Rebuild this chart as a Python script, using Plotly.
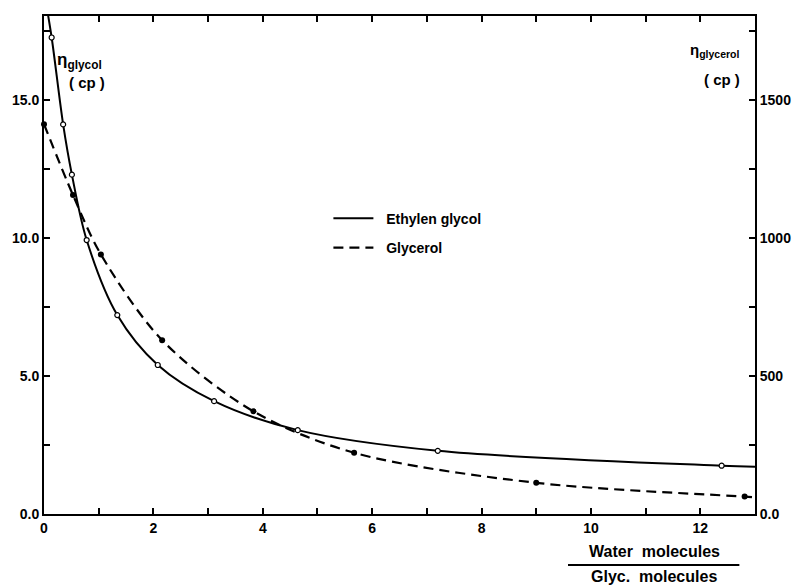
import plotly.graph_objects as go

# Measured points: water molecules per glycol molecule vs. viscosity
eg_x = [0.14, 0.35, 0.51, 0.78, 1.34, 2.08, 3.11, 4.64, 7.20, 12.39]
eg_visc = [17.27, 14.12, 12.30, 9.93, 7.21, 5.40, 4.09, 3.04, 2.29, 1.75]   # cp

gl_x = [0.0, 0.53, 1.04, 2.16, 3.83, 5.67, 9.00, 12.81]
gl_visc = [1413, 1156, 941, 630, 372, 222, 113, 63]                       # cp

# Smooth curves drawn through the points, extended to the frame edges
eg_curve_x = [0.03] + eg_x + [13.0]
eg_curve_y = [18.6] + eg_visc + [1.71]
gl_curve_x = gl_x + [13.0]
gl_curve_y = gl_visc + [60]

x_range = [0, 13]
y_left_range = [0, 18.05]
y_right_range = [0, 1805]
right_tickvals = [0, 500, 1000, 1500]
right_ticktext = ["0.0", "500", "1000", "1500"]

FONT = "Liberation Sans"
tick_font = dict(family=FONT, size=14, color="black", weight="bold")

fig = go.Figure()

fig.add_trace(go.Scatter(
    x=eg_curve_x, y=eg_curve_y, mode="lines", name="\u00a0\u00a0Ethylen glycol",
    legendgroup="eg",
    line=dict(color="black", width=2, shape="spline", smoothing=0.9),
    yaxis="y",
))
fig.add_trace(go.Scatter(
    x=gl_curve_x, y=gl_curve_y, mode="lines", name="\u00a0\u00a0Glycerol",
    legendgroup="gl",
    line=dict(color="black", width=2.2, shape="spline", smoothing=0.9, dash="10px,6px"),
    yaxis="y2",
))
fig.add_trace(go.Scatter(
    x=eg_x, y=eg_visc, mode="markers", showlegend=False, legendgroup="eg",
    marker=dict(symbol="circle", size=5, color="white", line=dict(color="black", width=1.2)),
    yaxis="y",
))
fig.add_trace(go.Scatter(
    x=gl_x, y=gl_visc, mode="markers", showlegend=False, legendgroup="gl",
    marker=dict(symbol="circle", size=6, color="black"),
    yaxis="y2", cliponaxis=False,
))

axis_common = dict(
    showgrid=False, zeroline=False, showline=True, linecolor="black", linewidth=2,
    ticks="inside", ticklen=6, tickwidth=2, tickcolor="black", tickfont=tick_font,
)

fig.update_layout(
    width=803, height=588,
    margin=dict(l=40, r=44, t=16, b=74),
    paper_bgcolor="white", plot_bgcolor="white",
    xaxis=dict(
        range=x_range, dtick=2, tick0=0, mirror="ticks",
        minor=dict(dtick=1, ticks="inside", ticklen=6, tickwidth=2, tickcolor="black"),
        **axis_common,
    ),
    yaxis=dict(
        range=y_left_range, dtick=5, tick0=0, tickformat=".1f",
        minor=dict(dtick=2.5, ticks="inside", ticklen=6, tickwidth=2, tickcolor="black"),
        **axis_common,
    ),
    yaxis2=dict(
        range=y_right_range, overlaying="y", side="right",
        tickvals=right_tickvals, ticktext=right_ticktext,
        minor=dict(tickvals=[250, 750, 1250, 1750], ticks="inside", ticklen=6,
                   tickwidth=2, tickcolor="black"),
        **axis_common,
    ),
    legend=dict(
        x=0.40, y=0.625, xanchor="left", yanchor="top",
        bgcolor="rgba(0,0,0,0)",
        font=dict(family=FONT, size=14, color="black", weight="bold"),
        tracegroupgap=8, itemwidth=40,
    ),
    showlegend=True,
)

label_font = dict(family=FONT, size=15, color="black", weight="bold")
sub_font = dict(family=FONT, size=17, color="black", weight="bold")
title_font = dict(family=FONT, size=16, color="black", weight="bold")

fig.add_annotation(text="η<sub>glycol</sub>", xref="paper", yref="paper",
                   x=0.016, y=0.91, xanchor="left", yanchor="middle",
                   showarrow=False, font=sub_font)
fig.add_annotation(text="( cp )", xref="paper", yref="paper",
                   x=0.06, y=0.866, xanchor="center", yanchor="middle",
                   showarrow=False, font=label_font)
fig.add_annotation(text="η<sub>glycerol</sub>", xref="paper", yref="paper",
                   x=0.982, y=0.93, xanchor="right", yanchor="middle",
                   showarrow=False, font=dict(family=FONT, size=15, color="black", weight="bold"))
fig.add_annotation(text="( cp )", xref="paper", yref="paper",
                   x=0.953, y=0.872, xanchor="center", yanchor="middle",
                   showarrow=False, font=label_font)

# x-axis title written as a fraction
fig.add_annotation(text="Water  molecules", xref="paper", yref="paper",
                   x=0.858, y=-0.076, xanchor="center", yanchor="middle",
                   showarrow=False, font=title_font)
fig.add_shape(type="line", xref="paper", yref="paper",
              x0=0.737, x1=0.978, y0=-0.1024, y1=-0.1024,
              line=dict(color="black", width=2))
fig.add_annotation(text="Glyc.  molecules", xref="paper", yref="paper",
                   x=0.858, y=-0.1265, xanchor="center", yanchor="middle",
                   showarrow=False, font=title_font)

fig.write_html("out.html")
